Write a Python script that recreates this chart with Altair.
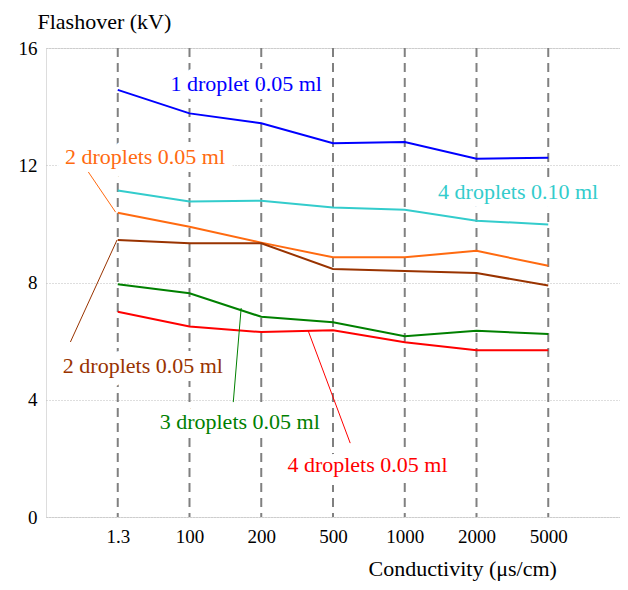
import json
import altair as alt
import pandas as pd

categories = ["1.3", "100", "200", "500", "1000", "2000", "5000"]

series_names = ["s1_blue", "s4_cyan", "s2_orange", "s2_brown", "s3_green", "s4_red"]
series_colors = ["#0000ff", "#33cccc", "#ff6a10", "#993300", "#008000", "#ff0000"]

blue_1drop = [14.57, 13.77, 13.43, 12.75, 12.79, 12.22, 12.26]
cyan_4drop_010 = [11.14, 10.76, 10.79, 10.56, 10.48, 10.11, 9.98]
orange_2drop = [10.38, 9.90, 9.36, 8.86, 8.86, 9.08, 8.57]
brown_2drop = [9.45, 9.34, 9.34, 8.46, 8.39, 8.32, 7.90]
green_3drop = [7.94, 7.63, 6.83, 6.64, 6.17, 6.35, 6.24]
red_4drop = [7.00, 6.50, 6.31, 6.37, 5.96, 5.69, 5.69]

all_series = [blue_1drop, cyan_4drop_010, orange_2drop, brown_2drop, green_3drop, red_4drop]

label_texts = ["1 droplet 0.05 ml", "4 droplets 0.10 ml", "2 droplets 0.05 ml",
               "2 droplets 0.05 ml", "3 droplets 0.05 ml", "4 droplets 0.05 ml"]
label_x = [1.79, 5.58, 0.38, 0.35, 1.70, 3.48]
label_y = [14.78, 11.09, 12.28, 5.15, 3.24, 1.77]

leader_series = ["s2_orange", "s2_brown", "s3_green", "s4_red"]
leader_x1 = [-0.41, -0.66, 1.61, 3.24]
leader_y1 = [11.77, 5.97, 3.92, 2.52]
leader_x2 = [-0.03, -0.01, 1.72, 2.65]
leader_y2 = [10.40, 9.45, 7.13, 6.38]

y_ticks = [0, 4, 8, 12, 16]

FONT = "Liberation Serif"

rows = []
for name, vals in zip(series_names, all_series):
    for i, v in enumerate(vals):
        rows.append({"series": name, "idx": i, "value": v})
df = pd.DataFrame(rows)

cat_df = pd.DataFrame({"idx": list(range(len(categories))), "cat": categories})
lab_df = pd.DataFrame({"series": series_names, "text": label_texts, "x": label_x, "y": label_y})
lead_df = pd.DataFrame({"series": leader_series, "x": leader_x1, "y": leader_y1,
                        "x2": leader_x2, "y2": leader_y2})

color_scale = alt.Scale(domain=series_names, range=series_colors)
label_expr = json.dumps(categories) + "[datum.value]"

x_scale = alt.Scale(domain=[-1, 7], nice=False, zero=False)
y_scale = alt.Scale(domain=[0, 16], nice=False)

x_axis = alt.Axis(values=list(range(len(categories))), labelExpr=label_expr, grid=False,
                  ticks=False, domain=False, labelFont=FONT, labelFontSize=19,
                  labelColor="black", labelPadding=10,
                  title="Conductivity (μs/cm)", titleFont=FONT, titleFontSize=22,
                  titleFontWeight="normal", titleColor="black", titleAlign="left",
                  titleBaseline="alphabetic", titleX=322, titleY=58, titleAngle=0)
y_axis = alt.Axis(values=y_ticks, grid=True, gridColor="#bdbdbd", gridDash=[1, 2],
                  gridWidth=1, ticks=False, domain=False, labelFont=FONT,
                  labelFontSize=19, labelColor="black", labelPadding=9,
                  title="Flashover (kV)", titleFont=FONT, titleFontSize=22,
                  titleFontWeight="normal", titleColor="black", titleAngle=0,
                  titleAlign="left", titleBaseline="alphabetic", titleX=-9, titleY=-20)

vrules = alt.Chart(cat_df).mark_rule(color="#808080", strokeWidth=2, strokeDash=[9, 6]).encode(
    x=alt.X("idx:Q", scale=x_scale, axis=x_axis),
    y=alt.value(0),
    y2=alt.value(469),
)

halo = alt.Chart(lab_df).mark_text(font=FONT, fontSize=22, stroke="white", strokeWidth=16,
                                    strokeJoin="round", fill="white").encode(
    x=alt.X("x:Q", scale=x_scale),
    y=alt.Y("y:Q", scale=y_scale),
    text="text:N",
)

lines = alt.Chart(df).mark_line(strokeWidth=2).encode(
    x=alt.X("idx:Q", scale=x_scale),
    y=alt.Y("value:Q", scale=y_scale, axis=y_axis),
    color=alt.Color("series:N", scale=color_scale, legend=None),
    detail="series:N",
)

leaders = alt.Chart(lead_df).mark_rule(strokeWidth=1).encode(
    x=alt.X("x:Q", scale=x_scale),
    y=alt.Y("y:Q", scale=y_scale),
    x2="x2:Q",
    y2="y2:Q",
    color=alt.Color("series:N", scale=color_scale, legend=None),
)

texts = alt.Chart(lab_df).mark_text(font=FONT, fontSize=22).encode(
    x=alt.X("x:Q", scale=x_scale),
    y=alt.Y("y:Q", scale=y_scale),
    text="text:N",
    color=alt.Color("series:N", scale=color_scale, legend=None),
)

chart = alt.layer(vrules, halo, lines, leaders, texts).properties(
    width=574, height=469,
    autosize=alt.AutoSizeParams(type="none"),
    padding={"left": 38, "top": 40, "right": 0, "bottom": 65},
).configure_view(stroke="black", strokeWidth=1.5).configure(background="white")

chart.save("out.html", embed_options={"renderer": "svg", "actions": False})
